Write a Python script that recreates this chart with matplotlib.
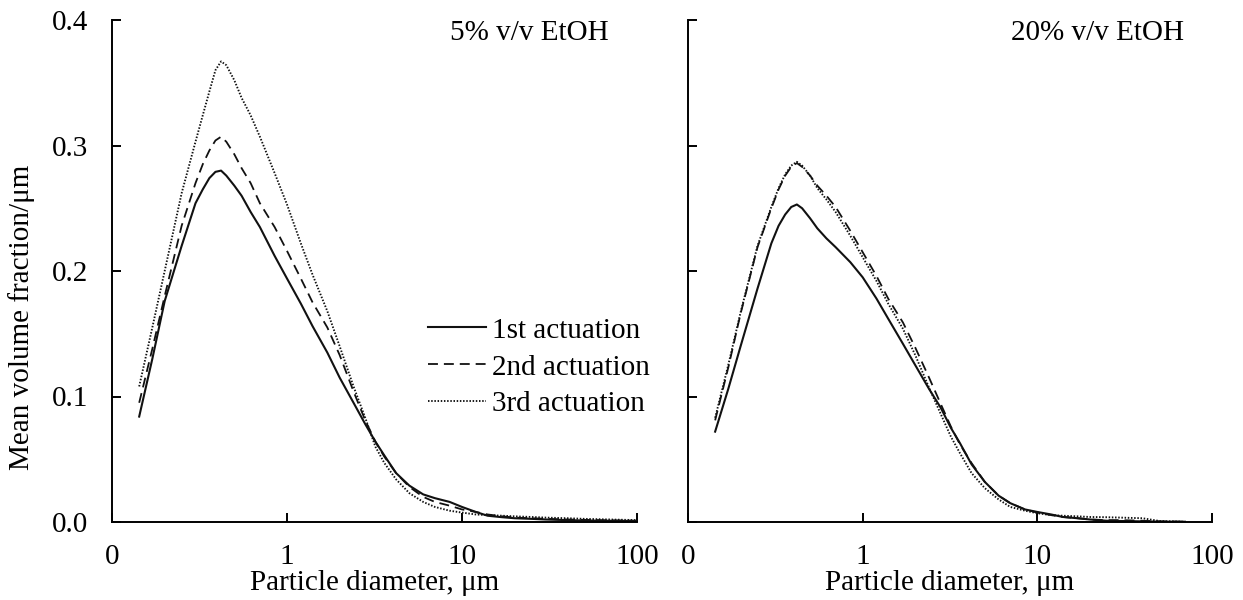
import matplotlib
matplotlib.use('Agg')
import matplotlib.pyplot as plt
import numpy as np
from matplotlib.ticker import NullLocator, FixedLocator, FixedFormatter

plt.rcParams['font.family'] = ['Liberation Serif', 'DejaVu Serif']
plt.rcParams['font.size'] = 21

# particle diameters (um)
diam = [0.143, 0.17, 0.2, 0.25, 0.3, 0.33, 0.36, 0.39, 0.42, 0.45,
        0.5, 0.55, 0.62, 0.7, 0.85, 1.0, 1.2, 1.4, 1.7, 2.0,
        2.4, 2.8, 3.2, 3.6, 4.2, 5, 6, 7, 8.5, 10,
        12, 14, 17, 20, 25, 30, 40, 50, 70, 100]

# 5% v/v EtOH
eth5_1st = [0.084, 0.130, 0.176, 0.220, 0.254, 0.265, 0.274, 0.279, 0.280, 0.276,
            0.268, 0.260, 0.247, 0.235, 0.212, 0.194, 0.174, 0.156, 0.135, 0.115,
            0.095, 0.078, 0.064, 0.053, 0.039, 0.029, 0.022, 0.019, 0.016, 0.012,
            0.008, 0.005, 0.0038, 0.003, 0.0025, 0.002, 0.0015, 0.0012, 0.001, 0.0008]
eth5_2nd = [0.095, 0.138, 0.180, 0.236, 0.270, 0.285, 0.296, 0.304, 0.307, 0.303,
            0.293, 0.282, 0.270, 0.254, 0.235, 0.216, 0.194, 0.175, 0.155, 0.133,
            0.104, 0.081, 0.064, 0.052, 0.039, 0.028, 0.020, 0.016, 0.013, 0.010,
            0.008, 0.006, 0.0045, 0.0035, 0.003, 0.0025, 0.002, 0.0017, 0.0013, 0.001]
eth5_3rd = [0.108, 0.155, 0.200, 0.262, 0.303, 0.324, 0.343, 0.360, 0.367, 0.364,
            0.352, 0.338, 0.324, 0.307, 0.278, 0.253, 0.222, 0.197, 0.168, 0.140,
            0.108, 0.083, 0.060, 0.047, 0.034, 0.023, 0.016, 0.012, 0.009, 0.0075,
            0.006, 0.0055, 0.005, 0.0045, 0.004, 0.0035, 0.003, 0.0025, 0.002, 0.0015]

# 20% v/v EtOH
eth20_1st = [0.072, 0.106, 0.140, 0.186, 0.222, 0.236, 0.245, 0.251, 0.253, 0.250,
             0.242, 0.234, 0.226, 0.219, 0.207, 0.195, 0.178, 0.162, 0.142, 0.125,
             0.106, 0.091, 0.075, 0.063, 0.046, 0.032, 0.021, 0.015, 0.010, 0.008,
             0.006, 0.004, 0.003, 0.002, 0.001, 0.0008, 0.0005, 0.0003, 0.0002, np.nan]
eth20_2nd = [0.081, 0.123, 0.166, 0.219, 0.250, 0.265, 0.276, 0.283, 0.286, 0.283,
             0.276, 0.268, 0.260, 0.251, 0.232, 0.215, 0.196, 0.178, 0.159, 0.139,
             0.115, 0.094, 0.076, 0.062, 0.047, 0.032, 0.021, 0.015, 0.010, 0.0075,
             0.0055, 0.004, 0.003, 0.002, 0.0015, 0.0015, 0.001, 0.0005, 0.0002, np.nan]
eth20_3rd = [0.083, 0.125, 0.167, 0.220, 0.251, 0.266, 0.277, 0.284, 0.287, 0.284,
             0.276, 0.266, 0.257, 0.247, 0.228, 0.211, 0.192, 0.174, 0.154, 0.133,
             0.107, 0.086, 0.068, 0.055, 0.039, 0.027, 0.018, 0.012, 0.009, 0.007,
             0.0055, 0.005, 0.0045, 0.004, 0.0038, 0.0035, 0.003, 0.0008, 0.0002, np.nan]

labels = ['1st actuation', '2nd actuation', '3rd actuation']
styles = [dict(linestyle='-', linewidth=1.5),
          dict(linestyle=(0, (5.5, 3.3)), linewidth=1.3),
          dict(linestyle=(0, (0.8, 0.9)), linewidth=1.35)]
panels = [('5% v/v EtOH', [eth5_1st, eth5_2nd, eth5_3rd]),
          ('20% v/v EtOH', [eth20_1st, eth20_2nd, eth20_3rd])]

fig = plt.figure(figsize=(12.43, 6), dpi=100)
axes = [fig.add_axes([112 / 1243, 0.13, 525 / 1243, 502 / 600]),
        fig.add_axes([688 / 1243, 0.13, 524 / 1243, 502 / 600])]

for i, (ax, (title, series)) in enumerate(zip(axes, panels)):
    for vals, lab, st in zip(series, labels, styles):
        ax.plot(diam, vals, color='#111111', label=lab, **st)
    ax.set_xscale('log')
    ax.set_xlim(0.1, 100)
    ax.set_ylim(0, 0.4)
    ax.xaxis.set_major_locator(FixedLocator([0.1, 1, 10, 100]))
    ax.xaxis.set_major_formatter(FixedFormatter(['0', '1', '10', '100']))
    ax.xaxis.set_minor_locator(NullLocator())
    ax.set_yticks([0, 0.1, 0.2, 0.3, 0.4])
    ax.set_yticklabels(['0.0', '0.1', '0.2', '0.3', '0.4'])
    ax.spines['top'].set_visible(False)
    ax.spines['right'].set_visible(False)
    for s in ['left', 'bottom']:
        ax.spines[s].set_linewidth(1.4)
    ax.tick_params(direction='in', length=6.5, width=1.4, labelsize=21)
    ax.tick_params(axis='y', pad=17)
    ax.tick_params(axis='x', pad=16)
    ax.set_xlabel('Particle diameter, μm', fontsize=21, labelpad=0)
    ax.text(0.946, 0.96, title, transform=ax.transAxes, ha='right', va='baseline', fontsize=21)
    if i == 1:
        ax.tick_params(axis='y', labelleft=False)
    else:
        ax.set_ylabel('Mean volume fraction/μm', fontsize=21)
        ax.yaxis.set_label_coords(-0.147, 0.408)
        ax.legend(loc='upper left', bbox_to_anchor=(0.602, 0.408), frameon=False,
                  handlelength=2.0, handletextpad=0.2, labelspacing=0.36, fontsize=21,
                  borderaxespad=0, borderpad=0)

fig.savefig('out.png', dpi=100)
